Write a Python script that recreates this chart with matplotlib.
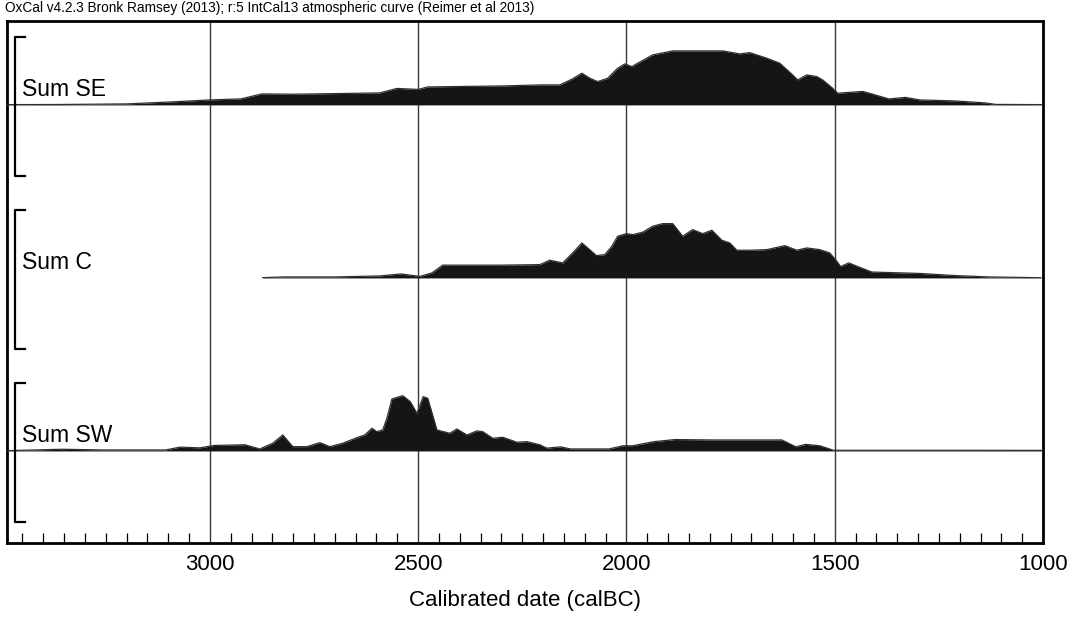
import matplotlib
matplotlib.use("Agg")
import matplotlib.pyplot as plt
import matplotlib.transforms as mtransforms
from matplotlib.ticker import MultipleLocator, FixedLocator

plt.rcParams['font.family'] = ['Liberation Sans', 'DejaVu Sans']

# summed probability distributions (relative heights), years in calBC
se_years = [3487, 3372, 3200, 3091, 3000, 2926, 2875, 2800, 2592, 2551, 2500, 2477,
            2294, 2208, 2160, 2131, 2107, 2088, 2069, 2045, 2021, 2004, 1987, 1973,
            1937, 1889, 1769, 1728, 1704, 1663, 1632, 1601, 1589, 1567, 1543, 1529,
            1505, 1493, 1433, 1411, 1370, 1330, 1296, 1212, 1138, 1114, 1000]
se_vals = [0.3, 0.4, 1, 3, 5, 6, 11, 10.7, 12, 16.5, 15.5, 18,
           19, 20, 20, 25.7, 31.7, 26.7, 23.3, 26.7, 36.7, 41, 38.3, 41.7,
           50, 54, 54, 51, 52.3, 46.7, 41.7, 30, 25, 30, 28.3, 25,
           16.7, 11.7, 13.5, 11, 6, 7.5, 5, 4, 2, 0.5, 0.3]

c_years = [2873, 2822, 2700, 2592, 2541, 2496, 2467, 2441, 2300, 2208, 2184, 2153,
           2129, 2107, 2093, 2072, 2052, 2035, 2021, 2000, 1985, 1961, 1937, 1913,
           1889, 1865, 1841, 1817, 1795, 1771, 1752, 1735, 1704, 1663, 1620, 1591,
           1567, 1536, 1512, 1495, 1486, 1466, 1445, 1411, 1296, 1212, 1130, 1005]
c_vals = [0.3, 1, 1, 2, 4, 1.5, 5, 12.8, 12.8, 13.3, 17.7, 15,
          25, 35, 30, 22.3, 23.3, 31.7, 41.7, 44.3, 43.3, 45.7, 51.7, 54.3,
          54.3, 41.7, 48.3, 44.3, 47.7, 37.7, 35, 27.7, 27.7, 28.3, 32.3, 27.7,
          30, 28.3, 25, 16.7, 11.4, 15, 11.4, 5.9, 4.5, 2.4, 1, 0.2]

sw_years = [3487, 3355, 3255, 3106, 3072, 3024, 2990, 2916, 2880, 2849, 2825, 2801,
            2767, 2736, 2712, 2681, 2647, 2628, 2611, 2599, 2585, 2575, 2563, 2537,
            2519, 2503, 2488, 2477, 2455, 2424, 2407, 2383, 2359, 2345, 2321, 2297,
            2263, 2239, 2208, 2191, 2158, 2134, 2042, 2008, 1985, 1934, 1883, 1793,
            1627, 1593, 1570, 1536, 1503, 1000]
sw_vals = [0.3, 1.7, 1, 1, 3.8, 3.1, 5.5, 6.2, 2, 7.7, 16, 4.3,
           4.3, 8.3, 4.3, 7.7, 13.3, 16, 22.7, 19.3, 21, 32.7, 52, 55.3,
           49.3, 37.7, 54.3, 52.7, 21, 17.7, 22, 16, 20, 19.3, 12.7, 13.7,
           8.7, 9.3, 6.2, 2.8, 4.1, 2, 2, 5.2, 5.2, 9.3, 11.4, 11,
           11, 4.1, 6.6, 5.2, 0.7, 0.6]

labels = ["Sum SE", "Sum C", "Sum SW"]
series = [(se_years, se_vals), (c_years, c_vals), (sw_years, sw_vals)]
major_ticks = [3000, 2500, 2000, 1500, 1000]

fig = plt.figure(figsize=(10.81, 6.17), dpi=100)
ax = fig.add_axes([7 / 1081, 1 - 543 / 617, 1036 / 1081, 522 / 617])

scale = 1 / 173.0
ink = '#151515'
trans = mtransforms.blended_transform_factory(ax.transAxes, ax.transData)

for i, (label, (yrs, vals)) in enumerate(zip(labels, series)):
    base = 2.532 - i
    top = [base + v * scale for v in vals]
    ax.fill_between(yrs, base, top, color=ink, lw=0, zorder=3)
    ax.plot(yrs, top, color='#303030', lw=0.9, zorder=3)
    # bracket on the left
    ax.plot([0.0174, 0.0077, 0.0077, 0.0174],
            [base + 0.393, base + 0.393, base - 0.41, base - 0.41],
            color='black', lw=1.6, transform=trans, clip_on=False, zorder=4)
    ax.text(0.0145, base + 0.025, label, fontsize=16.5, transform=trans,
            ha='left', va='bottom', zorder=5)

for yr in major_ticks[:-1]:
    ax.axvline(yr, color='#3a3a3a', lw=1.0, zorder=2)

ax.set_xlim(3487, 1000)
ax.set_ylim(0, 3.017)
ax.xaxis.set_major_locator(FixedLocator(major_ticks))
ax.xaxis.set_minor_locator(MultipleLocator(50))
ax.tick_params(axis='x', which='major', direction='in', length=0, labelsize=16, pad=8)
ax.tick_params(axis='x', which='minor', direction='in', length=7, width=0.9)
ax.set_yticks([])
for s in ax.spines.values():
    s.set_linewidth(2)
    s.set_color('black')
ax.set_xlabel("Calibrated date (calBC)", fontsize=16, labelpad=11)

fig.text(5 / 1081, 1 - 8 / 617,
         "OxCal v4.2.3 Bronk Ramsey (2013); r:5 IntCal13 atmospheric curve (Reimer et al 2013)",
         fontsize=9.8, ha='left', va='center')

fig.savefig("out.png", dpi=100)
